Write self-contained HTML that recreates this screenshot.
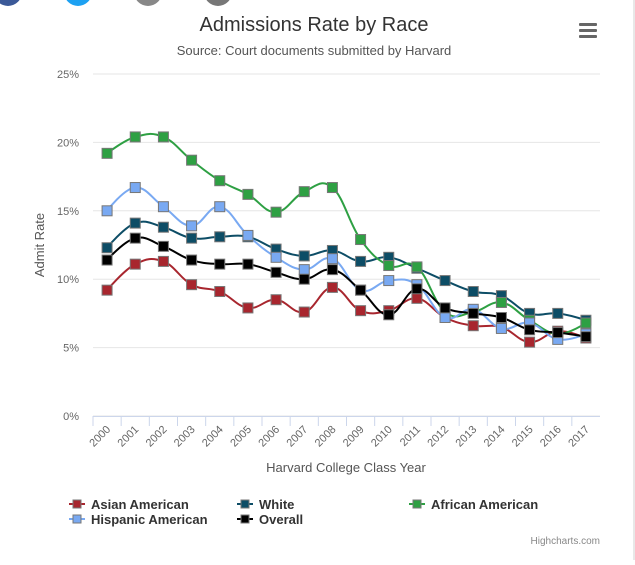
<!DOCTYPE html>
<html><head><meta charset="utf-8"><style>
body{margin:0;background:#fff;font-family:"Liberation Sans",sans-serif;}
svg text{font-family:"Liberation Sans",sans-serif;}
</style></head><body>
<svg id="c" width="635" height="560" xmlns="http://www.w3.org/2000/svg">
<rect x="633" y="0" width="2" height="560" fill="#e8e8e8"/>
<circle cx="8" cy="-8" r="14" fill="#3b5998"/>
<circle cx="78" cy="-8" r="14" fill="#1da1f2"/>
<circle cx="148" cy="-8" r="14" fill="#888"/>
<circle cx="218" cy="-8" r="14" fill="#777"/>
<text x="314" y="31" text-anchor="middle" font-size="20" fill="#333">Admissions Rate by Race</text>
<text x="314" y="55" text-anchor="middle" font-size="13" fill="#555">Source: Court documents submitted by Harvard</text>
<g fill="#666">
<rect x="579" y="23" width="18" height="3" rx="1"/><rect x="579" y="29" width="18" height="3" rx="1"/><rect x="579" y="35" width="18" height="3" rx="1"/></g>
<g id="grid"></g><g id="series"></g><g id="axes"></g>
<text x="0" y="0" transform="translate(44,245) rotate(-90)" text-anchor="middle" font-size="13" fill="#555">Admit Rate</text>
<text x="346" y="472" text-anchor="middle" font-size="13" fill="#555">Harvard College Class Year</text>
<g id="legend"></g>
<text x="600" y="544" text-anchor="end" font-size="10" fill="#888">Highcharts.com</text>
</svg>
<script>
const categories=[2000,2001,2002,2003,2004,2005,2006,2007,2008,2009,2010,2011,2012,2013,2014,2015,2016,2017];
const yTicks=[0,5,10,15,20,25];
const seriesNames=["Asian American","White","African American","Hispanic American","Overall"];
const seriesColors=["#a8262e","#0d4d66","#2ea043","#79a9f2","#000000"];
const asian=[9.2,11.1,11.3,9.6,9.1,7.9,8.5,7.6,9.4,7.7,7.7,8.6,7.2,6.6,6.5,5.4,6.2,5.7];
const white=[12.3,14.1,13.8,13.0,13.1,13.1,12.2,11.7,12.1,11.3,11.6,10.8,9.9,9.1,8.8,7.5,7.5,7.0];
const african=[19.2,20.4,20.4,18.7,17.2,16.2,14.9,16.4,16.7,12.9,11.0,10.9,7.6,7.6,8.3,7.0,6.0,6.8];
const hispanic=[15.0,16.7,15.3,13.9,15.3,13.2,11.6,10.7,11.5,9.2,9.9,9.6,7.2,7.8,6.4,6.8,5.6,6.0];
const overall=[11.4,13.0,12.4,11.4,11.1,11.1,10.5,10.0,10.7,9.2,7.4,9.3,7.9,7.5,7.2,6.3,6.1,5.8];
const allSeries=[asian,white,african,hispanic,overall];
const NS="http://www.w3.org/2000/svg";
const L=93,R=600,T=74,B=416;
const step=(R-L)/categories.length;
function xs(i){return L+step*(i+0.5);}
function ys(v){return B-(v/25)*(B-T);}
function mk(t,a,p){const e=document.createElementNS(NS,t);for(const k in a)e.setAttribute(k,a[k]);p.appendChild(e);return e;}
const grid=document.getElementById('grid'),axes=document.getElementById('axes'),ser=document.getElementById('series'),leg=document.getElementById('legend');
yTicks.forEach(v=>{
 const g=mk('line',{x1:L,x2:R,y1:ys(v),y2:ys(v),stroke:'#e6e6e6','stroke-width':1},grid);
 
 
 const t=mk('text',{x:L-14,y:ys(v)+4,'text-anchor':'end','font-size':11,fill:'#666'},axes);
 t.textContent=v+'%';
 
 
});
const ax=mk('line',{x1:L,x2:R,y1:B+0.5,y2:B+0.5,stroke:'#ccd6eb'},axes);


categories.forEach((c,i)=>{
 const tx=L+step*i;
 const tk=mk('line',{x1:tx,x2:tx,y1:B,y2:B+10,stroke:'#ccd6eb'},axes);
 
 
 const t=mk('text',{'text-anchor':'end','font-size':11,fill:'#666',transform:`translate(${xs(i)+4},${B+14}) rotate(-45)`},axes);
 t.textContent=c;
 
 
});
function spline(pts){
 const sm=1.5;let d=`M${pts[0][0]},${pts[0][1]}`;
 for(let i=1;i<pts.length;i++){
  const p0=pts[i-1],p1=pts[i];
  const pm=pts[i-2]||p0,pn=pts[i+1]||p1;
  const c1=ctrl(pm,p0,p1,true),c2=ctrl(p0,p1,pn,false);
  d+=` C${c1[0]},${c1[1]} ${c2[0]},${c2[1]} ${p1[0]},${p1[1]}`;
 }
 return d;
 function ctrl(a,b,c,right){
  if(a===b||b===c) return b;
  const lx=(sm*b[0]+a[0])/(sm+1),ly=(sm*b[1]+a[1])/(sm+1);
  const rx=(sm*b[0]+c[0])/(sm+1),ry=(sm*b[1]+c[1])/(sm+1);
  let corr=0;
  if(rx!==lx) corr=((ry-ly)*(rx-b[0]))/(rx-lx)+b[1]-ry;
  const nly=ly+corr,nry=ry+corr;
  return right?[rx,nry]:[lx,nly];
 }
}
allSeries.forEach((vals,s)=>{
 const g=mk('g',{},ser);
 
 
 const pts=vals.map((v,i)=>[xs(i),ys(v)]);
 const p=mk('path',{d:spline(pts),fill:'none',stroke:seriesColors[s],'stroke-width':2},g);
 
 
 pts.forEach(q=>{
  const r=mk('rect',{x:q[0]-5,y:q[1]-5,width:10,height:10,fill:seriesColors[s],stroke:'#777','stroke-width':1},g);
  
  
 });
});
const legPos=[[75,504],[243,504],[415,504],[75,519],[243,519]];
seriesNames.forEach((n,s)=>{
 const g=mk('g',{},leg);
 
 
 const [x,y]=legPos[s];
 mk('line',{x1:x-6,x2:x+10,y1:y,y2:y,stroke:seriesColors[s],'stroke-width':2},g);
 mk('rect',{x:x-2,y:y-4,width:8,height:8,fill:seriesColors[s],stroke:'#777'},g);
 const t=mk('text',{x:x+16,y:y+5,'font-size':13,'font-weight':'bold',fill:'#333'},g);
 t.textContent=n;
});
</script>
</body></html>
